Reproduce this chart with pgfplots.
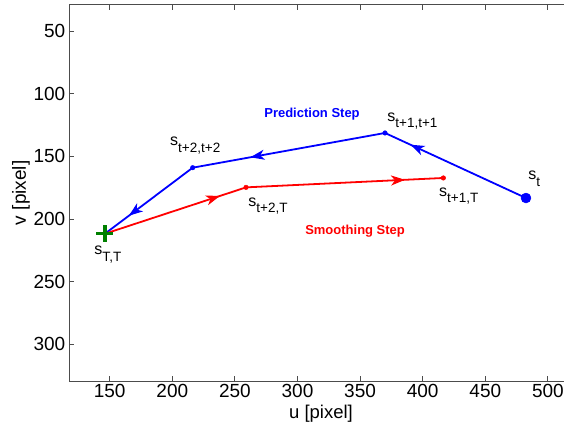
\documentclass[border=0pt]{standalone}
\usepackage{fontspec}
\setmainfont{Liberation Sans}
\usepackage{pgfplots}
\pgfplotsset{compat=1.18}
\usetikzlibrary{arrows.meta,decorations.markings}
\definecolor{mgreen}{rgb}{0,0.5,0}
\newcommand{\slab}[2]{\fontsize{16}{16}\selectfont #1\raisebox{-6.5pt}{\fontsize{13.5}{14}\selectfont #2}}
\tikzset{midarrow/.style={postaction={decorate}, decoration={markings, mark=at position #1 with {\arrow{Stealth[length=14pt,width=10pt,inset=4pt]}}}}}
\begin{document}
\begin{tikzpicture}
\begin{axis}[
  x=1.252pt, y=1.2533pt,
  xmin=117.5, xmax=520, ymin=29, ymax=329.3,
  y dir=reverse,
  clip=false,
  axis line style={black!70, line width=0.8pt},
  every tick/.style={black!70, line width=0.8pt},
  tick align=inside,
  major tick length=5pt,
  xtick={150,200,...,500}, ytick={50,100,...,300},
  tick label style={font=\fontsize{19}{22}\selectfont},
  /pgf/number format/assume math mode=true,
  xticklabel style={inner sep=3.5pt},
  yticklabel style={inner sep=3.5pt},
  every axis x label/.style={at={([yshift=-23.5pt]axis description cs:0.5,0)}, anchor=north, inner sep=0pt, font=\fontsize{18.5}{22}\selectfont},
  every axis y label/.style={at={([xshift=-39pt]axis description cs:0,0.5)}, anchor=south, rotate=90, inner sep=0pt, font=\fontsize{19}{22}\selectfont},
  xlabel={u [pixel]},
  ylabel={v [pixel]},
]
% prediction step (blue)
\addplot[blue, line width=1.8pt, midarrow=0.82] coordinates {(482.5,183.3) (369.9,131.4)};
\addplot[blue, line width=1.8pt, midarrow=0.70] coordinates {(369.9,131.4) (216.3,159.1)};
\addplot[blue, line width=1.8pt, midarrow=0.73] coordinates {(216.3,159.1) (146.2,211.8)};
% smoothing step (red)
\addplot[red, line width=1.8pt, midarrow=0.815] coordinates {(146.2,211.8) (258.9,174.8)};
\addplot[red, line width=1.8pt, midarrow=0.806] coordinates {(258.9,174.8) (416.5,167.3)};
% markers
\addplot[blue, only marks, mark=*, mark size=2.3pt] coordinates {(369.9,131.4) (216.3,159.1)};
\addplot[red, only marks, mark=*, mark size=2.3pt] coordinates {(258.9,174.8) (416.5,167.3)};
\addplot[blue, only marks, mark=*, mark size=5pt] coordinates {(482.5,183.3)};
\addplot[mgreen, only marks, mark=+, mark size=8.5pt, mark options={line width=3.5pt}] coordinates {(146.2,211.8)};
% labels
\node[anchor=base west, inner sep=0pt] at (axis cs:484.3,168.7) {\slab{s}{t}};
\node[anchor=base west, inner sep=0pt] at (axis cs:371.7,122.1) {\slab{s}{t+1,t+1}};
\node[anchor=base west, inner sep=0pt] at (axis cs:413,182) {\slab{s}{t+1,T}};
\node[anchor=base west, inner sep=0pt] at (axis cs:198.2,141.5) {\slab{s}{t+2,t+2}};
\node[anchor=base west, inner sep=0pt] at (axis cs:260.7,190) {\slab{s}{t+2,T}};
\node[anchor=base west, inner sep=0pt] at (axis cs:137.7,228.5) {\slab{s}{T,T}};
\node[anchor=base, inner sep=0pt, text=blue, font=\fontsize{13}{13}\selectfont\bfseries] at (axis cs:311.6,119.4) {Prediction Step};
\node[anchor=base, inner sep=0pt, text=red, font=\fontsize{13}{13}\selectfont\bfseries] at (axis cs:346,212.6) {Smoothing Step};
\coordinate (BL) at (axis cs:117.5,329.3);
\end{axis}
\pgfresetboundingbox
\path[use as bounding box] (BL) ++(-69pt,-47pt) rectangle ++(564pt,428pt);
\end{tikzpicture}
\end{document}
